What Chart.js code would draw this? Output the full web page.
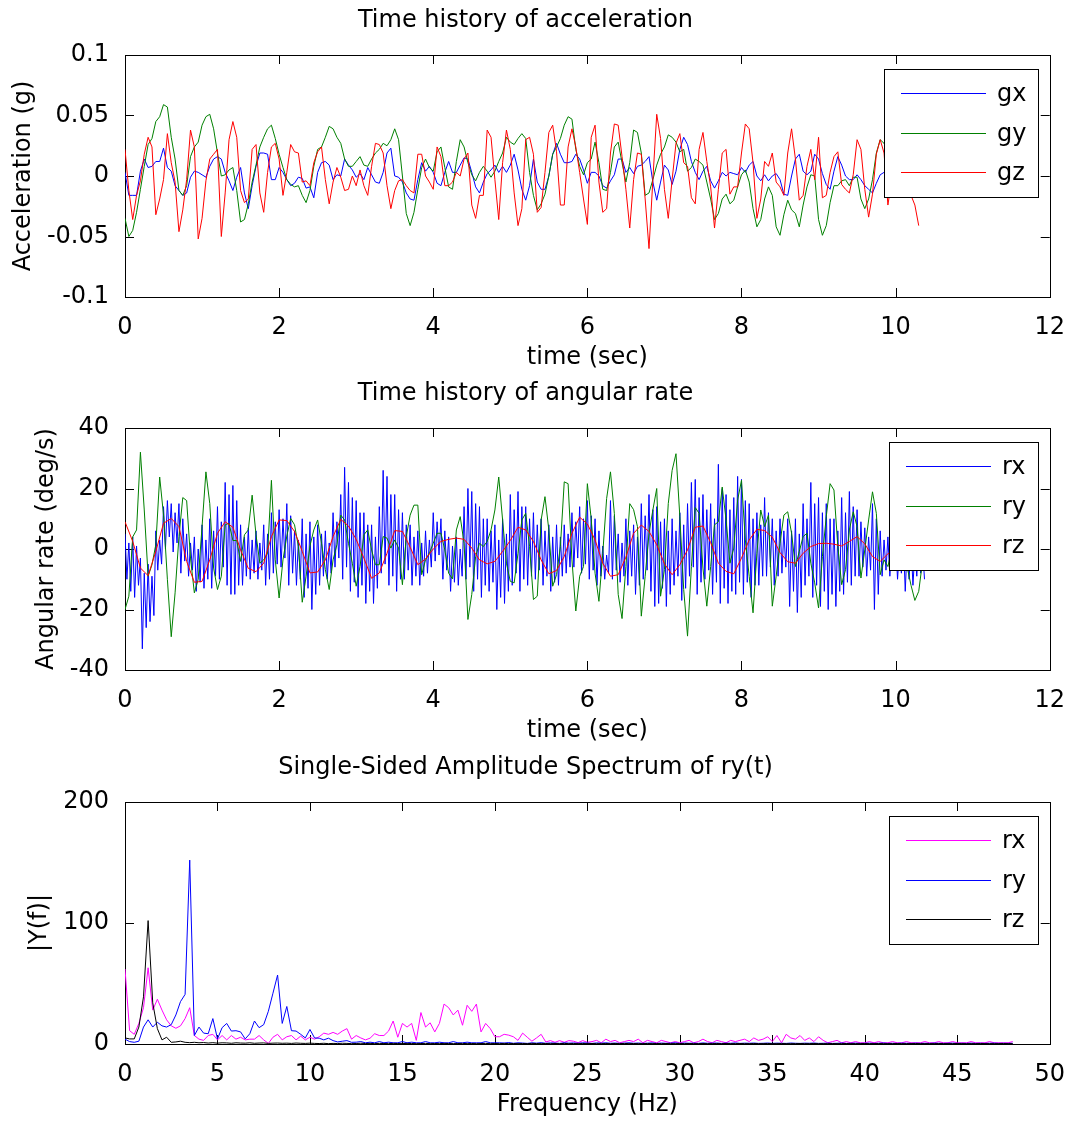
<!DOCTYPE html>
<html>
<head>
<meta charset="utf-8">
<script src="https://cdn.jsdelivr.net/npm/chart.js@4.4.1/dist/chart.umd.min.js"></script>
<style>
  html, body { margin: 0; padding: 0; background: #fff; }
  #wrap { position: relative; width: 1073px; height: 1121px; overflow: hidden; background: #fff; }
  canvas { position: absolute; left: 0; }
</style>
</head>
<body>
<div id="wrap">
  <canvas id="accChart" width="1073" height="374" style="top:0px"></canvas>
  <canvas id="rateChart" width="1073" height="374" style="top:373px"></canvas>
  <canvas id="specChart" width="1073" height="374" style="top:747px"></canvas>
</div>
<script>
// sample spacing of the recorded signals
const DT_ACC = 0.05;
const DT_RX = 0.025;
const DT_RY = 0.05;
const DT_RZ = 0.1;
const DF = 0.25;

// tick labels
const timeTicks = [0, 2, 4, 6, 8, 10, 12];
const freqTicks = [0, 5, 10, 15, 20, 25, 30, 35, 40, 45, 50];
const accTicks = [-0.1, -0.05, 0, 0.05, 0.1];
const rateTicks = [-40, -20, 0, 20, 40];
const ampTicks = [0, 100, 200];

// acceleration (g)
const gx = [
  0.003, -0.016, -0.016, -0.016, 0.004, 0.014, 0.007, 0.008, 0.012, 0.012,
  0.023, 0.007, 0.004, -0.008, -0.012, -0.016, -0.014, -0.001, 0.004, 0.003,
  0.001, -0.001, 0.008, 0.014, 0.016, 0.014, 0.003, -0.004, -0.012, -0.001,
  0.007, -0.014, -0.027, -0.008, 0.008, 0.019, 0.019, 0.018, -0.003, -0.003,
  0.007, 0.003, -0.003, -0.008, -0.006, -0.001, -0.002, -0.010, -0.009, -0.018,
  0.003, 0.011, 0.012, 0.009, -0.003, 0.001, 0.000, 0.014, 0.009, 0.005,
  -0.001, 0.002, -0.003, 0.007, 0.001, -0.005, -0.006, 0.003, 0.019, 0.023,
  0.000, -0.001, -0.005, -0.014, -0.019, -0.020, -0.003, 0.011, 0.004, 0.008,
  0.003, -0.006, -0.008, 0.003, 0.012, 0.003, 0.003, 0.009, 0.015, 0.014,
  0.003, -0.009, -0.014, -0.005, 0.002, 0.005, 0.009, 0.003, 0.008, 0.003,
  0.009, 0.018, 0.005, -0.011, -0.020, -0.008, 0.014, -0.005, -0.011, -0.011,
  0.000, 0.018, 0.027, 0.018, 0.011, 0.011, 0.012, 0.018, 0.014, 0.005,
  -0.006, 0.003, 0.003, 0.000, -0.008, -0.010, -0.004, 0.001, 0.014, 0.014,
  0.003, 0.007, 0.002, 0.008, 0.009, 0.012, 0.016, -0.005, -0.020, -0.005,
  0.009, 0.005, -0.007, 0.004, 0.022, 0.032, 0.026, 0.012, 0.003, -0.003,
  0.004, 0.008, -0.004, -0.010, -0.004, 0.003, 0.000, 0.003, 0.002, 0.001,
  0.007, 0.003, 0.009, 0.012, 0.000, -0.004, 0.001, -0.004, 0.000, 0.002,
  -0.003, -0.015, -0.016, 0.000, 0.014, 0.018, 0.004, 0.001, 0.004, 0.018,
  0.014, 0.002, -0.007, -0.011, 0.004, 0.016, 0.009, 0.000, -0.003, -0.003,
  0.001, -0.003, -0.008, -0.011, -0.014, -0.006, 0.001, 0.003, 0.004, 0.008,
  0.002, -0.004, -0.006, 0.000, 0.006, 0.004, -0.002
];
const gy = [
  -0.035, -0.050, -0.045, -0.030, -0.011, 0.008, 0.026, 0.031, 0.045, 0.049,
  0.059, 0.057, 0.032, 0.014, -0.012, -0.016, -0.008, 0.016, 0.024, 0.028,
  0.042, 0.049, 0.051, 0.039, 0.019, 0.000, 0.001, 0.005, 0.007, -0.012,
  -0.038, -0.036, -0.023, -0.005, 0.009, 0.024, 0.032, 0.039, 0.042, 0.031,
  0.018, 0.007, -0.003, -0.007, -0.009, -0.008, -0.016, -0.022, -0.012, 0.008,
  0.022, 0.024, 0.032, 0.041, 0.039, 0.032, 0.027, 0.014, 0.008, 0.008,
  0.012, 0.016, 0.009, 0.008, 0.014, 0.019, 0.022, 0.027, 0.025, 0.030,
  0.039, 0.030, 0.000, -0.031, -0.041, -0.030, -0.011, 0.007, 0.014, 0.007,
  0.004, 0.020, 0.024, 0.007, -0.009, -0.011, 0.012, 0.030, 0.024, 0.011,
  0.001, -0.004, 0.003, 0.008, 0.004, -0.001, 0.004, 0.012, 0.019, 0.032,
  0.028, 0.026, 0.031, 0.035, 0.031, 0.003, -0.016, -0.028, -0.023, -0.015,
  0.000, 0.018, 0.024, 0.031, 0.042, 0.049, 0.047, 0.022, 0.008, 0.001,
  0.011, 0.014, 0.028, 0.011, -0.011, -0.012, 0.003, 0.024, 0.028, 0.011,
  -0.005, 0.011, 0.038, 0.036, 0.019, -0.016, -0.014, -0.003, 0.009, 0.018,
  0.024, 0.034, 0.032, 0.028, 0.020, 0.022, 0.004, 0.007, 0.014, 0.012,
  0.009, -0.005, -0.019, -0.036, -0.031, -0.019, -0.015, -0.023, -0.020, -0.009,
  0.001, 0.005, -0.005, -0.027, -0.042, -0.036, -0.019, -0.009, -0.016, -0.042,
  -0.049, -0.032, -0.020, -0.028, -0.031, -0.042, -0.024, -0.009, 0.001, 0.000,
  -0.036, -0.049, -0.041, -0.022, -0.008, -0.008, -0.004, -0.003, -0.008, -0.001,
  -0.001, -0.019, -0.027, -0.019, -0.003, 0.019, 0.030, 0.027, 0.020, 0.012,
  0.004, -0.006, -0.010, 0.000, 0.008, 0.012, 0.005
];
const gz = [
  0.022, -0.012, -0.036, -0.016, -0.004, 0.018, 0.032, 0.024, -0.032, -0.019,
  -0.003, 0.035, 0.011, -0.005, -0.046, -0.028, -0.003, 0.038, 0.024, -0.052,
  -0.035, -0.004, 0.014, 0.018, 0.022, -0.050, -0.014, 0.030, 0.045, 0.032,
  -0.012, -0.022, -0.019, 0.022, 0.026, -0.014, -0.030, 0.003, 0.024, 0.027,
  0.014, -0.016, 0.003, 0.026, 0.020, 0.019, -0.005, -0.004, -0.008, 0.011,
  0.020, 0.024, -0.003, -0.023, -0.005, 0.007, -0.001, -0.012, -0.011, 0.000,
  -0.008, 0.005, -0.008, -0.016, 0.008, 0.027, 0.026, 0.019, -0.008, -0.027,
  -0.012, -0.004, -0.003, -0.008, -0.012, -0.014, 0.018, 0.018, 0.000, -0.005,
  -0.011, 0.024, 0.016, -0.008, -0.008, -0.005, 0.003, 0.000, 0.014, 0.019,
  -0.024, -0.035, -0.016, -0.016, 0.038, 0.032, -0.003, -0.036, 0.011, 0.038,
  0.022, -0.014, -0.041, -0.027, 0.030, 0.032, 0.018, -0.030, -0.026, 0.003,
  0.036, 0.042, 0.020, -0.024, -0.024, 0.024, 0.039, 0.024, 0.003, -0.019,
  -0.040, 0.032, 0.042, -0.005, -0.030, -0.027, 0.019, 0.043, 0.042, 0.016,
  -0.011, -0.043, -0.003, 0.019, 0.018, -0.019, -0.060, -0.003, 0.051, 0.031,
  -0.011, -0.035, -0.003, 0.027, 0.035, 0.011, 0.008, -0.018, -0.023, 0.022,
  0.036, 0.012, -0.009, -0.043, -0.011, 0.019, 0.022, -0.015, -0.009, -0.009,
  0.019, 0.043, 0.039, 0.011, -0.035, -0.019, 0.012, 0.008, 0.019, -0.005,
  -0.009, -0.016, 0.019, 0.039, 0.014, -0.020, -0.016, 0.008, 0.022, -0.003,
  0.032, -0.018, -0.016, 0.003, 0.016, 0.020, -0.007, -0.011, -0.014, 0.001,
  0.030, 0.022, -0.011, -0.034, -0.015, 0.018, 0.030, 0.019, -0.024, -0.003,
  0.014, 0.008, -0.008, 0.003, -0.016, -0.024, -0.041
];

// angular rate (deg/s)
const rx = [
  5, -10, 2, -14,  4, -16, 1, -12,  -3, -33, -8, -26,  -5, -24, -9, -22,
  6, -7, 3, -5,  14, 0, 16, 4,  15, -1, 12, 2,  15, -8, 10, -4,
  5, -9, 2, -7,  4, -14, 0, -11,  8, -13, 3, -10,  10, -13, 6, -9,
  14, -10, 9, -6,  22, -12, 18, -15,  21, -15, 16, -12,  8, -12, 4, -9,
  7, -10, 3, -8,  6, -10, 2, -7,  8, -12, 5, -10,  12, -8, 9, -5,
  13, -6, 10, -3,  15, -12, 11, -8,  6, -12, 3, -10,  10, -16, 5, -13,
  9, -20, 4, -15,  8, -12, 5, -9,  6, -10, 2, -8,  12, -6, 9, -3,
  18, -10, 27, -6,  22, -14, 17, -11,  16, -16, 12, -12,  12, -18, 8, -14,
  8, -18, 4, -13,  14, -8, 26, -5,  24, -12, 18, -9,  18, -14, 13, -10,
  12, -10, 8, -7,  8, -12, 4, -9,  6, -12, 2, -9,  6, -8, 3, -6,
  12, -4, 9, -2,  10, -10, 6, -7,  4, -14, 1, -11,  4, -12, 0, -9,
  14, -10, 20, -6,  19, -14, 15, -10,  14, -16, 10, -12,  10, -14, 6, -11,
  8, -20, 3, -16,  10, -18, 5, -14,  18, -12, 13, -8,  19, -14, 14, -10,
  14, -12, 10, -9,  12, -10, 8, -7,  10, -12, 6, -9,  8, -14, 4, -11,
  8, -12, 4, -9,  8, -8, 5, -6,  12, -6, 9, -3,  14, -8, 10, -5,
  16, -10, 11, -7,  10, -12, 6, -9,  1, -10, -2, -8,  16, -10, 11, -7,
  5, -11, 2, -9,  10, -12, 6, -9,  8, -15, 4, -12,  15, -10, 11, -7,
  18, -14, 13, -19,  14, -18, 9, -13,  10, -19, 6, -15,  10, -12, 6, -9,
  12, -17, 8, -13,  15, -9, 22, -6,  23, -15, 17, -11,  18, -10, 13, -7,
  15, -15, 10, -11,  28, -18, 20, -13,  18, -18, 13, -14,  17, -15, 24, -11,
  23, -15, 16, -11,  15, -16, 10, -12,  12, -12, 8, -9,  17, -9, 12, -6,
  10, -12, 6, -9,  10, -8, 6, -6,  10, -19, 6, -14,  10, -21, 5, -16,
  15, -12, 10, -9,  22, -16, 15, -12,  17, -19, 12, -14,  15, -20, 10, -15,
  10, -19, 6, -14,  17, -15, 12, -11,  19, -12, 14, -9,  13, -9, 9, -6,
  7, -9, 4, -7,  15, -20, 10, -15,  6, -9, 3, -7,  4, -9, 1, -7,
  3, -10, 0, -8,  4, -14, 1, -10,  2, -12, -1, -9,  3, -8, 0, -10
];
const ry = [
  -20, -15.6, 4, 6.3, 32, 12.9, -9, -5.2, 1.4, 23.8,
  11.2, -10, -29, -14.5, 4.1, 17, 16, -3, -14.5, -10,
  7.4, 25.5, 15, -6.3, -13.4, -9, 8, 8.5, 2.8, 2.8,
  -4.1, 4.7, 6.3, 17.8, 4.7, -4.7, -3.6, -1.4, 22.7, -3.6,
  -16.2, -3.6, 4.3, 10.1, 8, 0.8, -17.6, -9, 1, 6.3,
  9.6, 1.9, -6.8, -13.4, -3.6, 1.4, 11.2, 9.6, 1.9, -4.7,
  -12.3, -5.8, 4.7, 6.3, -0.3, -5.2, -5.2, 4.1, 3.6, 0.3,
  3, 0.3, -11.8, 4.1, 11.2, 14.5, 14.5, -8.5, -3.6, -1.4,
  1.9, 5.2, 5.2, -0.3, -8, -9.9, 6.3, 10.7, 1.9, -23.3,
  -15, -2.5, 1.9, 0.8, 2.5, 6.3, 12.9, 23.8, 9.6, -4.7,
  -10.7, -11.2, -1.4, 9.6, 11.8, 0.8, -16.7, -15.6, 9.6, 17.3,
  6.3, -12.3, -8.5, 0.8, 22.2, 21.6, -3.6, -20.5, -9, -5.8,
  21.6, 10, -8, -17.3, -1.4, 16.7, 25.5, 11.8, -15, -23,
  -5.8, 15, 13, 7.4, -22.2, -9, 5.2, 12.9, 20, -15.6,
  -6.8, 15, 26, 31.5, 10.7, -13.4, -28.8, -5.8, 13.7, 11.8,
  -6.3, -18.9, -5.8, 8, 9, 20.5, 9.6, -4.7, 0.3, 16.2,
  22.7, 3, -9, -21.1, -1.4, 12.9, 7.4, 11.2, -18.9, -9,
  1.9, 11.2, 12.3, 5.2, -5.8, -0.8, 4.1, 5.2, -4.7, -11.2,
  -19.5, -2.5, 10.7, 21.6, 19.5, 0.8, -11.8, -6.8, 6.3, 12.3,
  7.4, -9.6, -0.3, 9.6, 18.9, 11.8, -8.5, -3.6, -5.8, 0,
  6, 10, 4, -6, -12, -17, -14, -4
];
const rz = [
  9.0, 2.5, -6.3, -8.8, -0.8, 8.5, 10.1, 7.4, -4.1, -11.0,
  -10.7, -3.6, 5.2, 9.0, 7.2, -0.3, -6.4, -7.5, -4.7, 4.1,
  9.6, 9.4, 5.8, -0.8, -7.9, -7.6, -3.6, 4.1, 9.8, 7.6,
  3.2, -3.0, -9.7, -7.9, -1.4, 6.1, 5.8, 0.6, -5.2, -3.3,
  0.0, 2.5, 3.2, 3.6, 3.2, 0.3, -3.6, -4.9, -4.1, -0.8,
  2.8, 7.2, 6.3, 2.5, -3.6, -8.2, -7.1, -2.5, 5.2, 10.5,
  8.3, 3.0, -4.7, -9.0, -8.5, -2.7, 5.2, 7.9, 5.8, 1.4,
  -4.9, -8.5, -5.2, -0.3, 7.2, 7.6, 2.1, -4.7, -7.4, -8.2,
  -3.0, 3.0, 6.5, 6.1, 3.9, -1.2, -4.2, -4.7, -1.4, 0.8,
  1.8, 1.9, 1.6, 1.0, 2.5, 4.1, 1.7, -2.5, -4.1, -1.6,
  0.0, 1.2, 2.0, 1.0
];

// single-sided amplitude spectra |Y(f)|
const rxAmp = [
  62, 11, 8, 17, 30, 63, 28, 37, 28, 20,
  15, 13, 15, 21, 30, 7, 4, 3, 7, 8,
  3.4, 7, 3.4, 7, 4, 5.6, 3.4, 4, 4, 7,
  3.4, 0.5, 5.6, 8, 3.4, 6, 7, 3.4, 6.5, 3.4,
  5.6, 4, 6, 9, 8, 9.6, 8, 10.7, 12.7, 4,
  7, 5, 3.4, 4.8, 8.5, 7, 7, 10.7, 19, 5.6,
  17, 14, 17, 3, 26, 14, 17.5, 10, 17, 33,
  30, 24, 28, 15.5, 32, 27, 33, 10, 17, 12.7,
  6, 6, 8, 7.3, 6, 3, 9, 5.6, 2.3, 5,
  8, 1.7, 2.8, 1.4, 2.8, 1.4, 2.8, 2.3, 1.1, 2.8,
  1.4, 2, 3, 1, 4, 2, 3, 1, 2,
  3, 2, 4, 1, 3, 2, 1, 3, 2, 1, 2, 1,
  2, 3, 1, 2, 4, 2, 1, 3, 2, 1, 3, 2,
  3, 4, 2, 5, 3, 4, 6, 2, 7, 1, 8, 5,
  4, 7, 3, 5, 2, 6, 3, 1,
  2, 3, 1, 2, 1, 2, 1, 1, 2, 1, 2, 1,
  1, 2, 1, 1, 2, 1, 1, 1, 2, 1, 1, 2,
  1, 1, 2, 1, 1, 1, 2, 1, 1, 1, 2, 1, 1, 1, 1, 2
];
const ryAmp = [
  4, 2, 1.4, 2.3, 14, 20, 14, 18, 15, 14,
  16, 24, 35, 41, 152, 7, 14, 9, 8.5, 21,
  4.2, 13.5, 17, 10.7, 11, 10, 4.2, 8.5, 19, 13.5,
  16, 27, 42, 57, 17, 31, 11, 10.7, 8, 5,
  12, 5, 4.8, 3.4, 4.8, 2.8, 1.7, 2.3, 2.8, 1.4,
  1.5, 2, 1, 1.5, 1, 2, 1, 1.5, 1, 1, 2, 1, 1.5, 1, 1, 2,
  1, 1, 1.5, 1, 1, 2, 1, 1, 1.5, 1, 1, 1, 2, 1, 1,
  1, 0.8, 1.2, 0.6, 1, 0.8, 0.5, 1, 0.7, 1.1, 0.6, 0.9, 0.8, 0.5, 1, 0.7,
  0.9, 0.6, 1, 0.8, 0.5, 0.9, 0.7, 1, 0.6, 0.8, 0.5, 0.7, 1, 0.6, 0.8, 0.5,
  0.7, 0.9, 0.5, 0.8, 0.6, 0.7, 1, 0.5, 0.8, 0.6, 0.7, 0.5, 0.9, 0.6, 0.7, 0.8,
  0.5, 0.7, 0.6, 0.9, 0.5, 0.7, 0.6, 0.8, 0.5, 0.6, 0.8, 0.5, 0.7, 0.6, 0.5, 0.8,
  0.6, 0.5, 0.7, 0.6, 0.8, 0.5, 0.6, 0.7, 0.5, 0.6, 0.8, 0.5, 0.6, 0.7, 0.5, 0.6,
  0.7, 0.5, 0.6, 0.8, 0.5, 0.6, 0.5, 0.7, 0.6, 0.5, 0.7, 0.5, 0.6, 0.5, 0.7, 0.6,
  0.5, 0.6, 0.7, 0.5, 0.6, 0.5, 0.7, 0.5, 0.6, 0.5, 0.6, 0.7, 0.5, 0.6, 0.5, 0.6
];
const rzAmp = [
  5, 4.2, 4.2, 14, 39, 102, 34, 12.7, 3.4, 5.6, 1.4, 1.7, 2.3, 1.4, 1.1, 1.4,
  1, 1.2, 0.8, 1.1, 0.7, 1, 0.9, 0.6, 1, 0.8, 0.7, 1, 0.6, 0.8, 0.9, 0.5,
  0.7, 0.8, 0.6, 0.7, 0.5, 0.8, 0.6, 0.5, 0.7,
  0.5, 0.4, 0.6, 0.3, 0.5, 0.4, 0.6, 0.5, 0.3, 0.4, 0.6, 0.4, 0.5, 0.3, 0.5, 0.4, 0.3, 0.5, 0.4,
  0.3, 0.5, 0.4, 0.3, 0.4, 0.5, 0.3, 0.4, 0.3, 0.5, 0.4, 0.3, 0.4, 0.5, 0.3, 0.4, 0.3, 0.4, 0.5,
  0.3, 0.4, 0.3, 0.5, 0.3, 0.4, 0.3, 0.4, 0.3, 0.5, 0.4, 0.3, 0.4, 0.3, 0.4, 0.3, 0.5, 0.3, 0.4,
  0.3, 0.4, 0.3, 0.4, 0.3, 0.3, 0.4, 0.3, 0.4, 0.3, 0.5, 0.3, 0.4, 0.3, 0.3, 0.4, 0.3, 0.4, 0.3,
  0.4, 0.3, 0.3, 0.4, 0.3, 0.4, 0.3, 0.3, 0.4, 0.3, 0.3, 0.4, 0.3, 0.4, 0.3, 0.3, 0.4, 0.3, 0.3,
  0.4, 0.3, 0.3, 0.4, 0.3, 0.3, 0.4, 0.3, 0.3, 0.3, 0.4, 0.3, 0.3, 0.4, 0.3, 0.3, 0.3, 0.4, 0.3,
  0.3, 0.4, 0.3, 0.3, 0.3, 0.4, 0.3, 0.3, 0.4, 0.3, 0.3, 0.3, 0.4, 0.3, 0.3, 0.3, 0.4, 0.3, 0.3,
  0.3, 0.3, 0.4, 0.3, 0.3, 0.3, 0.4, 0.3, 0.3, 0.3, 0.3, 0.4, 0.3, 0.3, 0.3, 0.3, 0.4, 0.3, 0.3
];

const FONT = "'DejaVu Sans', 'Liberation Sans', sans-serif";
const FONT_SIZE = 24;

// MATLAB style box with inward ticks on all four sides
const matlabAxes = {
  id: "matlabAxes",
  beforeDatasetsDraw(chart) {
    const { ctx, chartArea: a, scales } = chart;
    const len = 9;
    ctx.save();
    ctx.strokeStyle = "#000";
    ctx.lineWidth = 1;
    ctx.beginPath();
    scales.x.ticks.forEach(t => {
      const px = Math.round(scales.x.getPixelForValue(t.value)) + 0.5;
      ctx.moveTo(px, a.bottom); ctx.lineTo(px, a.bottom - len);
      ctx.moveTo(px, a.top); ctx.lineTo(px, a.top + len);
    });
    scales.y.ticks.forEach(t => {
      const py = Math.round(scales.y.getPixelForValue(t.value)) + 0.5;
      ctx.moveTo(a.left, py); ctx.lineTo(a.left + len, py);
      ctx.moveTo(a.right, py); ctx.lineTo(a.right - len, py);
    });
    ctx.stroke();
    ctx.strokeRect(Math.round(a.left) + 0.5, Math.round(a.top) + 0.5,
      Math.round(a.right - a.left), Math.round(a.bottom - a.top));
    ctx.restore();
  }
};

// boxed legend in the top right corner of the axes
const boxLegend = {
  id: "boxLegend",
  afterDatasetsDraw(chart) {
    const { ctx, chartArea: a } = chart;
    const sets = chart.data.datasets;
    ctx.save();
    ctx.font = `${FONT_SIZE}px ${FONT}`;
    const textW = Math.max(...sets.map(d => ctx.measureText(d.label).width));
    const w = Math.round(114 + textW + 11);
    const h = 128;
    const right = Math.round(a.right) - 12;
    const left = right - w;
    const top = Math.round(a.top) + 14;
    ctx.fillStyle = "#fff";
    ctx.fillRect(left, top, w, h);
    ctx.strokeStyle = "#000";
    ctx.lineWidth = 1;
    ctx.strokeRect(left + 0.5, top + 0.5, w, h);
    sets.forEach((d, i) => {
      const yy = Math.round(top + 24 + i * 39.7) + 0.5;
      ctx.strokeStyle = d.borderColor;
      ctx.beginPath();
      ctx.moveTo(left + 17, yy);
      ctx.lineTo(left + 102, yy);
      ctx.stroke();
      ctx.fillStyle = "#000";
      ctx.textAlign = "left";
      ctx.textBaseline = "middle";
      ctx.fillText(d.label, left + 113, yy + 1);
    });
    ctx.restore();
  }
};

const font = () => ({ family: FONT, size: FONT_SIZE, weight: "normal" });

const makeChart = (id, cfg) => {
  const n = cfg.series.length;
  return new Chart(document.getElementById(id), {
    type: "line",
    data: {
      datasets: cfg.series.map((s, i) => ({
        label: s.label,
        data: s.values.map((v, k) => ({ x: +(k * s.step).toFixed(4), y: v })),
        borderColor: s.color,
        backgroundColor: s.color,
        borderWidth: 1,
        pointRadius: 0,
        tension: 0,
        fill: false,
        order: n - i
      }))
    },
    options: {
      responsive: false,
      animation: false,
      events: [],
      layout: { padding: { left: 0, right: 22, top: 0, bottom: 0 } },
      plugins: {
        legend: { display: false },
        tooltip: { enabled: false },
        title: {
          display: true,
          text: cfg.title,
          color: "#000",
          font: font(),
          padding: { top: 6, bottom: 20.2 }
        }
      },
      scales: {
        x: {
          type: "linear",
          min: cfg.xTicks[0],
          max: cfg.xTicks[cfg.xTicks.length - 1],
          grid: { display: false },
          border: { display: false },
          afterBuildTicks: (s) => { s.ticks = cfg.xTicks.map(v => ({ value: v })); },
          afterFit: (s) => { s.height = 77; },
          ticks: {
            color: "#000", font: font(), padding: 8,
            maxRotation: 0, autoSkip: false,
            callback: (v) => String(v)
          },
          title: {
            display: true, text: cfg.xTitle, color: "#000", font: font(),
            padding: { top: 0, bottom: 2 }
          }
        },
        y: {
          type: "linear",
          min: cfg.yTicks[0],
          max: cfg.yTicks[cfg.yTicks.length - 1],
          grid: { display: false },
          border: { display: false },
          afterBuildTicks: (s) => { s.ticks = cfg.yTicks.map(v => ({ value: v })); },
          afterFit: (s) => { s.width = 125; },
          ticks: {
            color: "#000", font: font(), padding: 8, autoSkip: false,
            callback: (v) => String(v)
          },
          title: {
            display: true, text: cfg.yTitle, color: "#000", font: font(),
            padding: { top: cfg.yTitlePad, bottom: 0 }
          }
        }
      }
    },
    plugins: [matlabAxes, boxLegend]
  });
};

makeChart("accChart", {
  title: "Time history of acceleration",
  xTitle: "time (sec)",
  yTitle: "Acceleration (g)",
  yTitlePad: 9,
  xTicks: timeTicks,
  yTicks: accTicks,
  series: [
    { label: "gx", values: gx, step: DT_ACC, color: "#0000ff" },
    { label: "gy", values: gy, step: DT_ACC, color: "#008000" },
    { label: "gz", values: gz, step: DT_ACC, color: "#ff0000" }
  ]
});

makeChart("rateChart", {
  title: "Time history of angular rate",
  xTitle: "time (sec)",
  yTitle: "Angular rate (deg/s)",
  yTitlePad: 32,
  xTicks: timeTicks,
  yTicks: rateTicks,
  series: [
    { label: "rx", values: rx, step: DT_RX, color: "#0000ff" },
    { label: "ry", values: ry, step: DT_RY, color: "#008000" },
    { label: "rz", values: rz, step: DT_RZ, color: "#ff0000" }
  ]
});

makeChart("specChart", {
  title: "Single-Sided Amplitude Spectrum of ry(t)",
  xTitle: "Frequency (Hz)",
  yTitle: "|Y(f)|",
  yTitlePad: 25,
  xTicks: freqTicks,
  yTicks: ampTicks,
  series: [
    { label: "rx", values: rxAmp, step: DF, color: "#ff00ff" },
    { label: "ry", values: ryAmp, step: DF, color: "#0000ff" },
    { label: "rz", values: rzAmp, step: DF, color: "#000000" }
  ]
});
</script>
</body>
</html>
